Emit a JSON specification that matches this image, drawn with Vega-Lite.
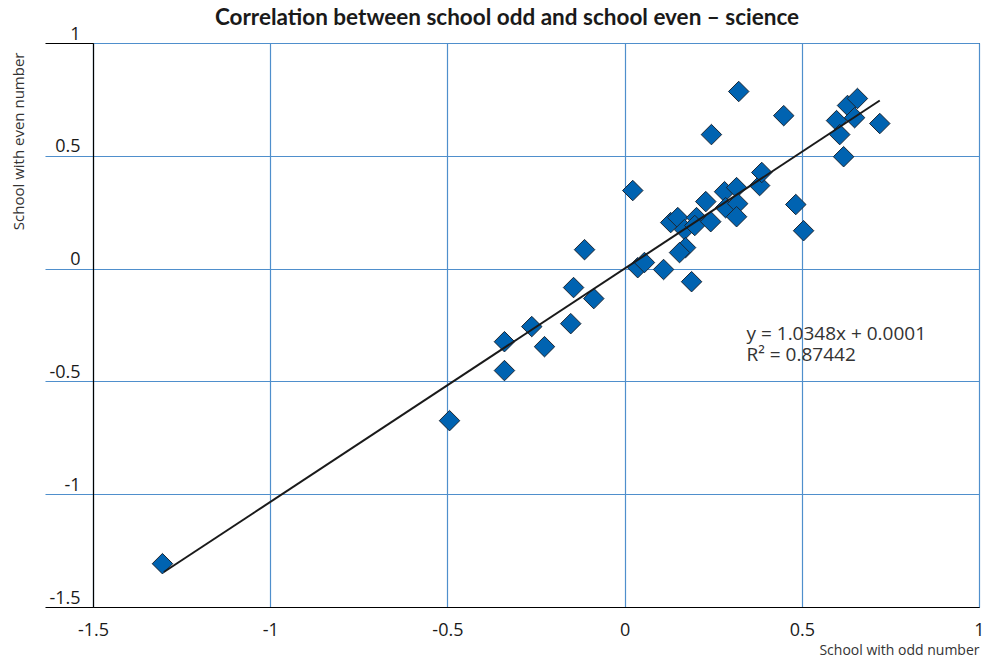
{
  "$schema": "https://vega.github.io/schema/vega-lite/v6.json",
  "width": 886,
  "height": 564,
  "autosize": {"type": "none"},
  "padding": {"left": 93, "top": 43, "right": 17, "bottom": 56},
  "background": "white",
  "config": {
    "font": "Open Sans",
    "view": {"stroke": "black", "strokeWidth": 1}
  },
  "title": {
    "text": "Correlation between school odd and school even – science",
    "font": "Lato",
    "fontSize": 22.5,
    "fontWeight": "bold",
    "color": "#1a1a1a",
    "anchor": "middle",
    "dx": -29,
    "offset": -4
  },
  "datasets": {
    "points": [
      {"odd": -1.304, "even": -1.308},
      {"odd": -0.494, "even": -0.674},
      {"odd": -0.339, "even": -0.324},
      {"odd": -0.339, "even": -0.452},
      {"odd": -0.262, "even": -0.257},
      {"odd": -0.226, "even": -0.346},
      {"odd": -0.152, "even": -0.244},
      {"odd": -0.144, "even": -0.084},
      {"odd": -0.113, "even": 0.084},
      {"odd": -0.087, "even": -0.133},
      {"odd": 0.023, "even": 0.346},
      {"odd": 0.037, "even": 0.004},
      {"odd": 0.056, "even": 0.027},
      {"odd": 0.110, "even": -0.004},
      {"odd": 0.189, "even": -0.058},
      {"odd": 0.130, "even": 0.204},
      {"odd": 0.150, "even": 0.226},
      {"odd": 0.169, "even": 0.173},
      {"odd": 0.172, "even": 0.093},
      {"odd": 0.155, "even": 0.071},
      {"odd": 0.203, "even": 0.226},
      {"odd": 0.198, "even": 0.191},
      {"odd": 0.229, "even": 0.297},
      {"odd": 0.243, "even": 0.208},
      {"odd": 0.245, "even": 0.594},
      {"odd": 0.282, "even": 0.341},
      {"odd": 0.285, "even": 0.270},
      {"odd": 0.316, "even": 0.359},
      {"odd": 0.319, "even": 0.288},
      {"odd": 0.316, "even": 0.230},
      {"odd": 0.322, "even": 0.785},
      {"odd": 0.381, "even": 0.368},
      {"odd": 0.387, "even": 0.426},
      {"odd": 0.449, "even": 0.678},
      {"odd": 0.483, "even": 0.284},
      {"odd": 0.505, "even": 0.168},
      {"odd": 0.598, "even": 0.656},
      {"odd": 0.607, "even": 0.594},
      {"odd": 0.618, "even": 0.496},
      {"odd": 0.629, "even": 0.723},
      {"odd": 0.649, "even": 0.669},
      {"odd": 0.657, "even": 0.754},
      {"odd": 0.720, "even": 0.643}
    ],
    "trend": [
      {"odd": -1.3, "even": -1.345},
      {"odd": 0.72, "even": 0.745}
    ],
    "label": [
      {"odd": 0.344, "even": -0.25, "text": "y = 1.0348x + 0.0001"},
      {"odd": 0.344, "even": -0.345, "text": "R² = 0.87442"}
    ]
  },
  "layer": [
    {
      "data": {"name": "points"},
      "mark": {"type": "point", "shape": "diamond", "filled": true, "size": 420, "fill": "#0063b1", "stroke": "#1b2633", "strokeWidth": 1, "opacity": 1},
      "encoding": {
        "x": {
          "field": "odd", "type": "quantitative",
          "scale": {"domain": [-1.5, 1], "nice": false, "zero": false},
          "axis": {
            "values": [-1.5, -1, -0.5, 0, 0.5, 1],
            "title": "School with odd number",
            "titleFont": "Open Sans", "titleFontSize": 14, "titleFontWeight": "normal", "titleColor": "#333",
            "titleX": 886, "titleY": 43, "titleAlign": "right", "titleBaseline": "middle", "titleAnchor": null,
            "labelExpr": "'' + datum.value",
            "labelFont": "Open Sans", "labelFontSize": 18, "labelColor": "#1a1a1a",
            "labelPadding": 14, "labelFlush": false, "labelOverlap": false,
            "ticks": false,
            "domainColor": "black", "domainWidth": 1.2,
            "grid": true, "gridColor": "#4f8fcc", "gridWidth": 1.2, "gridOpacity": 1
          }
        },
        "y": {
          "field": "even", "type": "quantitative",
          "scale": {"domain": [-1.5, 1], "nice": false, "zero": false},
          "axis": {
            "values": [-1.5, -1, -0.5, 0, 0.5, 1],
            "title": "School with even number",
            "titleFont": "Open Sans", "titleFontSize": 15, "titleFontWeight": "normal", "titleColor": "#333",
            "titleX": -75, "titleY": 9, "titleAngle": -90, "titleAlign": "right", "titleBaseline": "middle", "titleAnchor": null,
            "labelExpr": "'' + datum.value",
            "labelFont": "Open Sans", "labelFontSize": 18, "labelColor": "#1a1a1a",
            "labelBaseline": "bottom", "labelOffset": 0, "labelAlign": "right",
            "labelPadding": -35, "labelFlush": false, "labelOverlap": false,
            "ticks": true, "tickSize": 48, "tickWidth": 1.2,
            "tickColor": {"expr": "datum.value == 1 || datum.value == -1.5 ? 'black' : '#4f8fcc'"},
            "domainColor": "black", "domainWidth": 1.2,
            "grid": true, "gridColor": "#4f8fcc", "gridWidth": 1.2, "gridOpacity": 1
          }
        }
      }
    },
    {
      "data": {"name": "trend"},
      "mark": {"type": "line", "color": "#1a1a1a", "strokeWidth": 2},
      "encoding": {
        "x": {"field": "odd", "type": "quantitative"},
        "y": {"field": "even", "type": "quantitative"}
      }
    },
    {
      "data": {"name": "label"},
      "mark": {"type": "text", "align": "left", "baseline": "top", "font": "Open Sans", "fontSize": 19, "color": "#333"},
      "encoding": {
        "x": {"field": "odd", "type": "quantitative"},
        "y": {"field": "even", "type": "quantitative"},
        "text": {"field": "text"}
      }
    }
  ]
}
